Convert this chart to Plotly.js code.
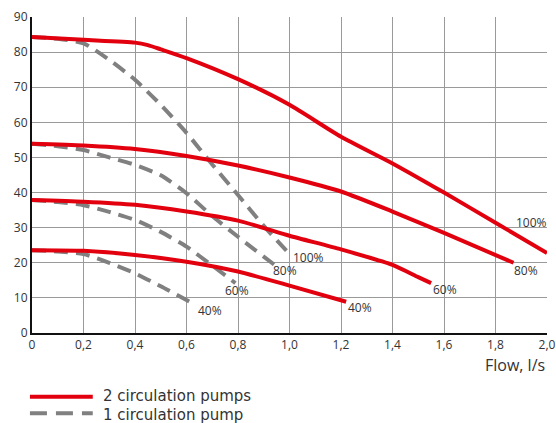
<!DOCTYPE html>
<html>
<head>
<meta charset="utf-8">
<script src="https://cdn.plot.ly/plotly-3.0.1.min.js"></script>
<style>html,body{margin:0;padding:0;background:#fff;}#chart{width:556px;height:423px;}</style>
</head>
<body>
<div id="chart"></div>
<script>
// Tick labels
var xTickVals = [0, 0.2, 0.4, 0.6, 0.8, 1.0, 1.2, 1.4, 1.6, 1.8, 2.0];
var xTickText = ["0", "0,2", "0,4", "0,6", "0,8", "1,0", "1,2", "1,4", "1,6", "1,8", "2,0"];
var yTickVals = [0, 10, 20, 30, 40, 50, 60, 70, 80, 90];

// 2 circulation pumps (red)
var red100Flow = [0, 0.2, 0.4, 0.45, 0.5, 0.6, 0.8, 1.0, 1.2, 1.4, 1.6, 1.8, 2.0];
var red100Head = [84.3, 83.5, 82.7, 82.0, 80.8, 78.3, 72.3, 65.0, 55.9, 48.3, 40.0, 31.4, 22.8];
var red80Flow = [0, 0.2, 0.4, 0.6, 0.8, 1.0, 1.2, 1.4, 1.6, 1.87];
var red80Head = [53.9, 53.4, 52.4, 50.4, 47.7, 44.3, 40.3, 34.6, 28.5, 20.0];
var red60Flow = [0, 0.2, 0.4, 0.6, 0.8, 1.0, 1.2, 1.4, 1.5, 1.55];
var red60Head = [37.9, 37.4, 36.5, 34.6, 32.0, 27.7, 23.8, 19.4, 15.9, 14.2];
var red40Flow = [0, 0.2, 0.4, 0.6, 0.8, 1.0, 1.22];
var red40Head = [23.6, 23.4, 22.2, 20.3, 17.5, 13.5, 8.9];

// 1 circulation pump (grey dashed)
var grey100Flow = [0, 0.1, 0.2, 0.3, 0.4, 0.5, 0.6, 0.7, 0.8, 0.9, 1.0];
var grey100Head = [84.3, 83.8, 82.5, 77.8, 72.1, 65.0, 57.0, 48.0, 39.3, 30.5, 22.5];
var grey80Flow = [0, 0.1, 0.2, 0.3, 0.4, 0.5, 0.6, 0.7, 0.8, 0.94];
var grey80Head = [53.9, 53.2, 52.1, 50.0, 47.9, 44.9, 39.8, 33.3, 27.4, 19.5];
var grey60Flow = [0, 0.1, 0.2, 0.3, 0.4, 0.5, 0.6, 0.7, 0.79];
var grey60Head = [37.9, 37.3, 36.4, 34.5, 32.2, 28.8, 24.6, 19.2, 14.2];
var grey40Flow = [0, 0.1, 0.2, 0.3, 0.4, 0.5, 0.62];
var grey40Head = [23.6, 23.2, 22.5, 20.0, 17.0, 13.3, 8.6];

// Curve labels
var labelText = ["100%", "80%", "60%", "40%", "100%", "80%", "60%", "40%"];
var labelFlow = [1.94, 1.92, 1.605, 1.275, 1.072, 0.983, 0.795, 0.69];
var labelHead = [31.6, 17.7, 12.4, 7.3, 21.6, 17.7, 12.0, 6.3];

// Legend entries
var legendText = ["2 circulation pumps", "1 circulation pump"];

var RED = "#e2000f";
var GREY = "#808080";
var FONT = "Open Sans, DejaVu Sans, sans-serif";
var LEGFONT = "DejaVu Sans, Open Sans, sans-serif";

function redLine(x, y) {
  return {x: x, y: y, type: "scatter", mode: "lines", showlegend: false, hoverinfo: "skip",
    line: {color: RED, width: 4, shape: "spline", smoothing: 0.6}};
}
function greyLine(x, y) {
  return {x: x, y: y, type: "scatter", mode: "lines", showlegend: false, hoverinfo: "skip",
    line: {color: GREY, width: 4, dash: "14px,8px", shape: "spline", smoothing: 0.6}};
}

var data = [
  greyLine(grey100Flow, grey100Head),
  greyLine(grey80Flow, grey80Head),
  greyLine(grey60Flow, grey60Head),
  greyLine(grey40Flow, grey40Head),
  redLine(red100Flow, red100Head),
  redLine(red80Flow, red80Head),
  redLine(red60Flow, red60Head),
  redLine(red40Flow, red40Head)
];

var annotations = labelText.map(function (t, i) {
  return {x: labelFlow[i], y: labelHead[i], xref: "x", yref: "y", text: t, showarrow: false,
    font: {family: FONT, size: 12, color: "#333"}, xanchor: "center", yanchor: "middle"};
});
annotations.push({x: 1.0, y: -0.1, xref: "paper", yref: "paper", text: "Flow, l/s", showarrow: false,
  xanchor: "right", yanchor: "middle", font: {family: FONT, size: 16, color: "#333"}});
annotations.push({x: 0.136, y: -0.198, xref: "paper", yref: "paper", text: legendText[0], showarrow: false,
  xanchor: "left", yanchor: "middle", borderpad: 0, font: {family: LEGFONT, size: 15, color: "#333"}});
annotations.push({x: 0.136, y: -0.259, xref: "paper", yref: "paper", text: legendText[1], showarrow: false,
  xanchor: "left", yanchor: "middle", borderpad: 0, font: {family: LEGFONT, size: 15, color: "#333"}});

var shapes = [
  {type: "line", xref: "paper", yref: "paper", x0: -0.004, x1: 0.118, y0: -0.202, y1: -0.202,
    line: {color: RED, width: 4}},
  {type: "line", xref: "paper", yref: "paper", x0: -0.004, x1: 0.118, y0: -0.254, y1: -0.254,
    line: {color: GREY, width: 4, dash: "17px,9px"}}
];

var layout = {
  width: 556, height: 423,
  margin: {l: 32, r: 9, t: 17, b: 90},
  paper_bgcolor: "#fff", plot_bgcolor: "#fff",
  showlegend: false,
  xaxis: {range: [0, 2], tickvals: xTickVals, ticktext: xTickText, showgrid: true,
    gridcolor: "#9a9a9a", gridwidth: 1, zeroline: false, showline: true, linecolor: "#111", linewidth: 2,
    ticks: "", tickfont: {family: FONT, size: 12, color: "#333"}, fixedrange: true},
  yaxis: {range: [0, 90], tickvals: yTickVals, showgrid: true,
    gridcolor: "#9a9a9a", gridwidth: 1, zeroline: false, showline: true, linecolor: "#111", linewidth: 2,
    ticks: "", tickfont: {family: FONT, size: 12, color: "#333"}, fixedrange: true},
  annotations: annotations,
  shapes: shapes
};

Plotly.newPlot("chart", data, layout, {displayModeBar: false, staticPlot: true});
</script>
</body>
</html>
